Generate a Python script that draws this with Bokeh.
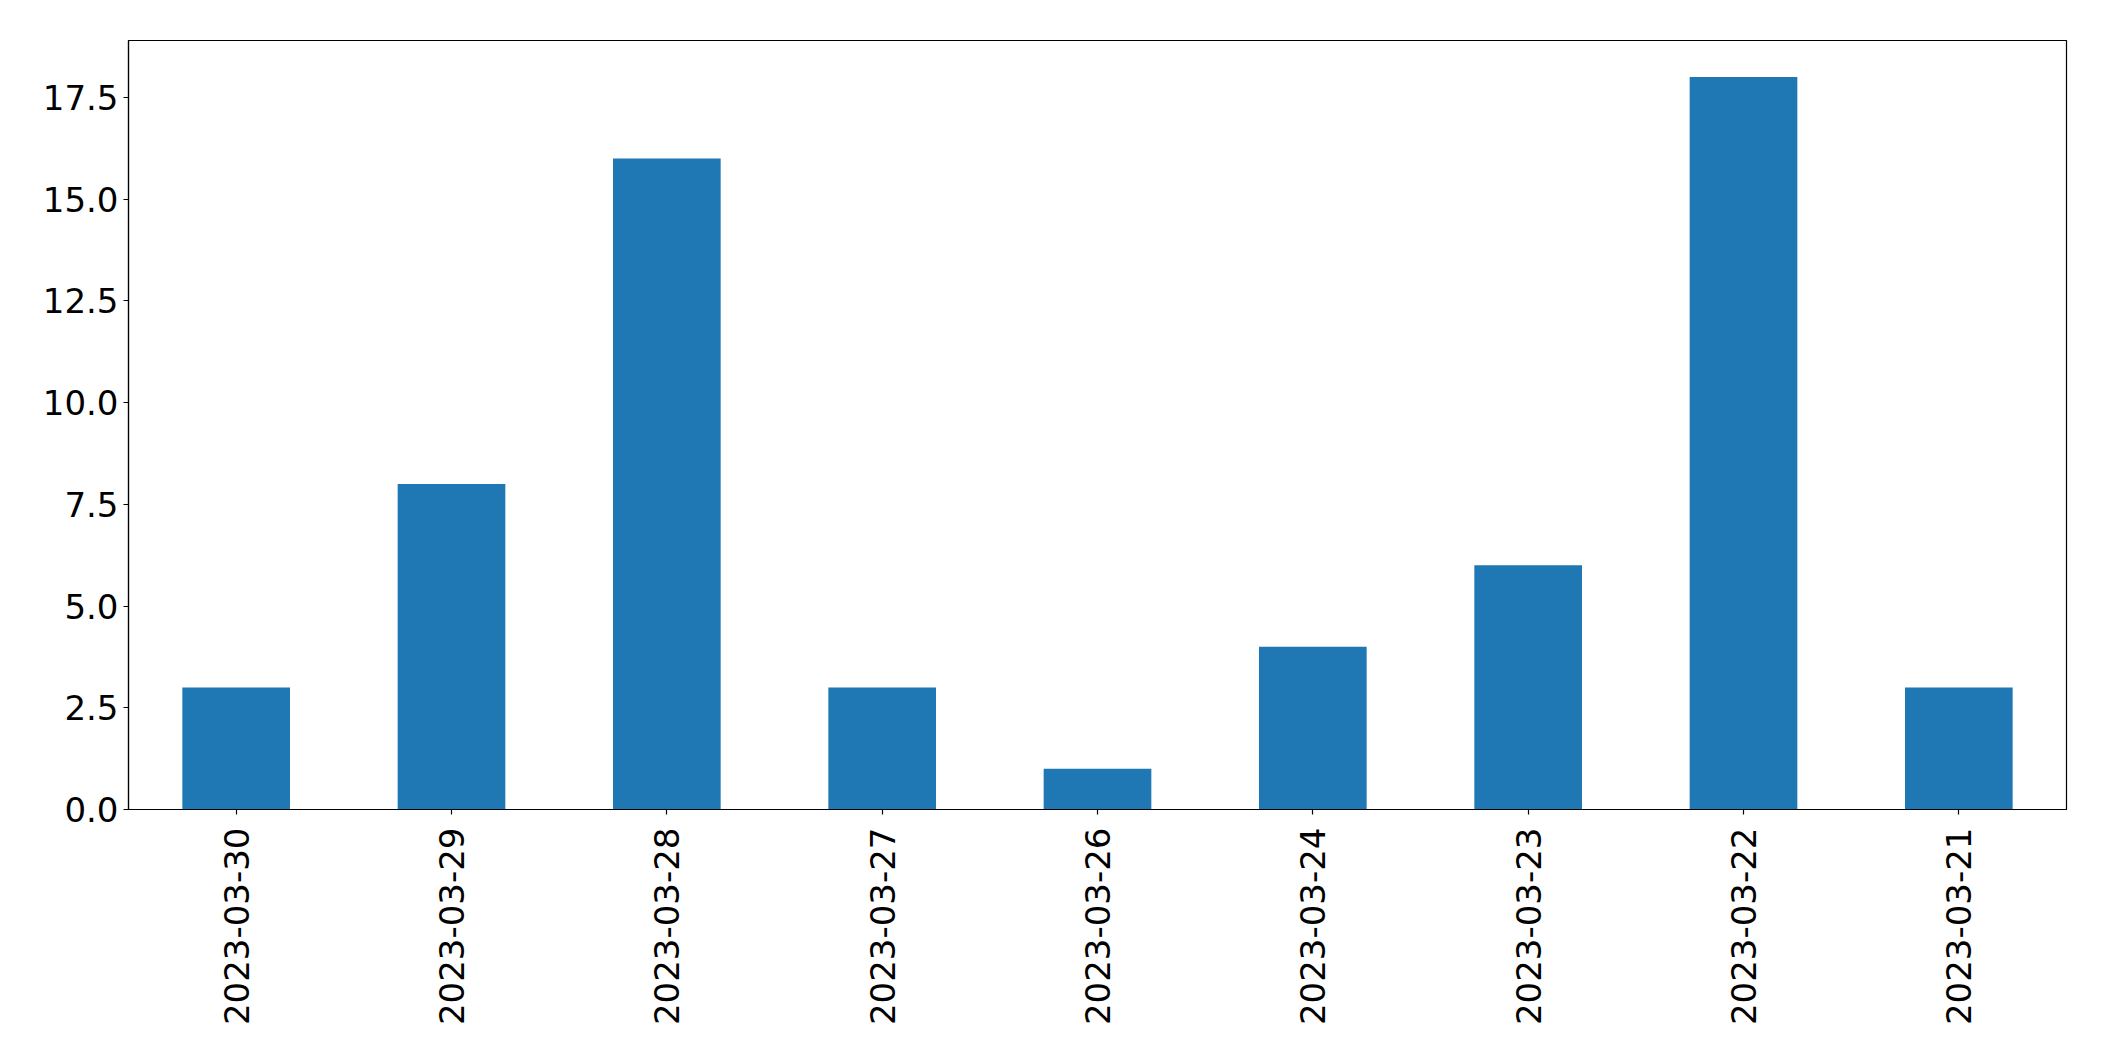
import math
from bokeh.plotting import figure
from bokeh.embed import file_html
from bokeh.resources import INLINE
from bokeh.models import FixedTicker, NumeralTickFormatter, Range1d, ColumnDataSource

dates = ["2023-03-30", "2023-03-29", "2023-03-28", "2023-03-27", "2023-03-26",
         "2023-03-24", "2023-03-23", "2023-03-22", "2023-03-21"]
counts = [3, 8, 16, 3, 1, 4, 6, 18, 3]
y_ticks = [0, 2.5, 5, 7.5, 10, 12.5, 15, 17.5]

source = ColumnDataSource(dict(date=dates, count=counts))

p = figure(x_range=dates, y_range=Range1d(0, 18.9),
           width=2096, height=1053, output_backend="svg", toolbar_location=None,
           min_border_left=128, min_border_right=30, min_border_top=40, min_border_bottom=244)
p.x_range.range_padding = 0
p.vbar(x="date", top="count", width=0.5, source=source, color="#1f77b4", line_color=None)

p.xgrid.visible = False
p.ygrid.visible = False
p.outline_line_color = "black"
p.outline_line_width = 1.2

for ax in (p.xaxis, p.yaxis):
    ax.axis_line_color = "black"
    ax.axis_line_width = 1.2
    ax.major_tick_line_color = "black"
    ax.major_tick_line_width = 1.2
    ax.major_tick_out = 5
    ax.major_tick_in = 0
    ax.minor_tick_line_color = None
    ax.major_label_text_font = "DejaVu Sans"
    ax.major_label_text_font_size = "34px"
    ax.major_label_text_color = "black"

p.yaxis.major_label_standoff = 5
p.xaxis.major_label_standoff = 13
p.yaxis.ticker = FixedTicker(ticks=y_ticks)
p.yaxis.formatter = NumeralTickFormatter(format="0.0")
p.xaxis.major_label_orientation = math.pi / 2

open("out.html", "w").write(file_html(p, INLINE))
